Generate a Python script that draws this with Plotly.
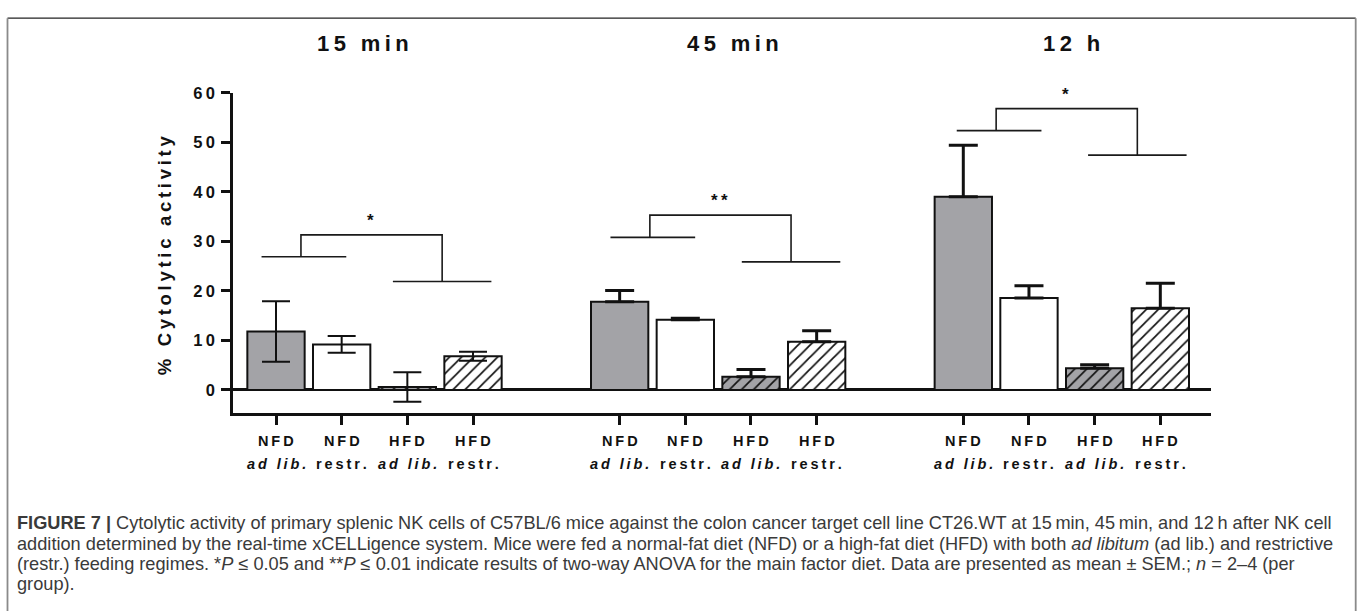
import plotly.graph_objects as go

W, H = 1360, 611

# ---------------- data ----------------
groups = ["15 min", "45 min", "12 h"]
cat_line1 = ["NFD", "NFD", "HFD", "HFD"]
cat_line2 = ["ad lib.", "restr.", "ad lib.", "restr."]
cat_italic = [True, False, True, False]

# mean % cytolytic activity, per group (15 min, 45 min, 12 h)
nfd_adlib = [11.8, 17.8, 39.0]
nfd_restr = [9.2, 14.2, 18.55]
hfd_adlib = [0.6, 2.65, 4.4]
hfd_restr = [6.8, 9.75, 16.5]

# SEM
nfd_adlib_sem = [6.1, 2.3, 10.4]
nfd_restr_sem = [1.7, 0.3, 2.5]
hfd_adlib_sem = [3.0, 1.5, 0.7]
hfd_restr_sem = [0.9, 2.2, 5.05]

# significance brackets (two-way ANOVA, main factor diet)
sig_labels = ["*", "**", "*"]
sig_left_y = [26.9, 30.8, 52.35]
sig_right_y = [21.9, 25.85, 47.4]
sig_top_y = [31.3, 35.3, 56.8]

y_tick_vals = [0, 10, 20, 30, 40, 50, 60]
y_title = "% Cytolytic activity"

caption_lines = [
    "<b>FIGURE 7 |</b> Cytolytic activity of primary splenic NK cells of C57BL/6 mice against the colon cancer target cell line CT26.WT at 15\u2009min, 45\u2009min, and 12\u2009h after NK cell",
    "addition determined by the real-time xCELLigence system. Mice were fed a normal-fat diet (NFD) or a high-fat diet (HFD) with both <i>ad libitum</i> (ad lib.) and restrictive",
    "(restr.) feeding regimes. *<i>P</i> \u2264 0.05 and **<i>P</i> \u2264 0.01 indicate results of two-way ANOVA for the main factor diet. Data are presented as mean \u00b1 SEM.; <i>n</i> = 2\u20134 (per",
    "group).",
]

# ---------------- layout constants ----------------
GROUP_STEP = 5.233
BAR_W = 0.873
GRAY = "#a3a3a7"
INK = "#111111"
FONT = "Liberation Sans, Arial, sans-serif"
TS = "\u2009"  # thin space for letter spacing


def spaced(s, sep=TS):
    return sep.join(s)


def px(x):
    return x / W


def py(y):
    return 1 - y / H


series = [nfd_adlib, nfd_restr, hfd_adlib, hfd_restr]
sems = [nfd_adlib_sem, nfd_restr_sem, hfd_adlib_sem, hfd_restr_sem]
fills = [GRAY, "white", GRAY, "white"]
hatched = [False, False, True, True]

fig = go.Figure()

positions = []
for i in range(4):
    xs = [g * GROUP_STEP + i for g in range(len(groups))]
    positions += xs
    marker = dict(color=fills[i], line=dict(color=INK, width=2))
    if hatched[i]:
        marker["pattern"] = dict(shape="/", fgcolor="#111111", bgcolor=fills[i],
                                 size=8.5, solidity=0.2, fillmode="replace")
    fig.add_trace(go.Bar(x=xs, y=series[i], width=BAR_W, marker=marker,
                         showlegend=False, hoverinfo="skip"))

# error bars: 15 min symmetric, others upward only
for g in range(len(groups)):
    xs = [g * GROUP_STEP + i for i in range(4)]
    ys = [series[i][g] for i in range(4)]
    es = [sems[i][g] for i in range(4)]
    if g == 0:
        err = dict(type="data", array=es, symmetric=True, color=INK,
                   thickness=2, width=14)
    else:
        err = dict(type="data", array=es, arrayminus=[0] * 4, symmetric=False,
                   color=INK, thickness=3, width=14.5)
    fig.add_trace(go.Scatter(x=xs, y=ys, mode="markers",
                             marker=dict(size=1, color="rgba(0,0,0,0)"),
                             error_y=err, showlegend=False, hoverinfo="skip"))

shapes = []
annotations = []

# significance brackets
LEFT_SPAN = (-0.14, 1.15)
RIGHT_SPAN = (1.86, 3.36)
LEGS = (0.46, 2.61)
STAR_X = 1.52
bracket_shift = [-0.08, 0.0, 0.04]
for g in range(len(groups)):
    o = g * GROUP_STEP + bracket_shift[g]
    line = dict(color="#1a1a1a", width=1.6)
    shapes.append(dict(type="line", xref="x", yref="y", x0=o + LEFT_SPAN[0], x1=o + LEFT_SPAN[1],
                       y0=sig_left_y[g], y1=sig_left_y[g], line=line))
    shapes.append(dict(type="line", xref="x", yref="y", x0=o + RIGHT_SPAN[0], x1=o + RIGHT_SPAN[1],
                       y0=sig_right_y[g], y1=sig_right_y[g], line=line))
    path = (f"M {o + LEGS[0]},{sig_left_y[g]} L {o + LEGS[0]},{sig_top_y[g]} "
            f"L {o + LEGS[1]},{sig_top_y[g]} L {o + LEGS[1]},{sig_right_y[g]}")
    shapes.append(dict(type="path", xref="x", yref="y", path=path, line=line))
    annotations.append(dict(x=o + STAR_X, y=sig_top_y[g], xref="x", yref="y",
                            text=spaced(sig_labels[g]), showarrow=False,
                            yanchor="bottom", yshift=3,
                            font=dict(family=FONT, size=17, color=INK, weight="bold")))

# group titles
title_offset = [1.32, 1.73, 1.64]
for g, name in enumerate(groups):
    annotations.append(dict(x=g * GROUP_STEP + title_offset[g], y=py(35), xref="x", yref="paper",
                            text="<b>" + spaced(name) + "</b>", showarrow=False,
                            xanchor="center", yanchor="middle",
                            font=dict(family=FONT, size=22, color=INK)))

# x category labels (two lines)
for g in range(len(groups)):
    for i in range(4):
        x = g * GROUP_STEP + i
        annotations.append(dict(x=x, y=py(438.5), xref="x", yref="paper",
                                text="<b>" + spaced(cat_line1[i]) + "</b>", showarrow=False,
                                xanchor="center", yanchor="middle",
                                font=dict(family=FONT, size=14.5, color=INK)))
        t2 = "<b>" + spaced(cat_line2[i]) + "</b>"
        if cat_italic[i]:
            t2 = "<i>" + t2 + "</i>"
        annotations.append(dict(x=x, y=py(461.5), xref="x", yref="paper",
                                text=t2, showarrow=False,
                                xanchor="center", yanchor="middle",
                                font=dict(family=FONT, size=14.5, color=INK)))

# y axis title
annotations.append(dict(x=px(164), y=py(250), xref="paper", yref="paper",
                        text="<b>" + spaced(y_title) + "</b>", textangle=-90,
                        showarrow=False, xanchor="center", yanchor="middle",
                        font=dict(family=FONT, size=18.5, color=INK)))

# caption
cap_y = [521.5, 542.5, 563, 583.5]
for t, yy in zip(caption_lines, cap_y):
    annotations.append(dict(x=px(15), y=py(yy), xref="paper", yref="paper", text=t,
                            showarrow=False, xanchor="left", yanchor="middle",
                            font=dict(family=FONT, size=18.2, color="#3a3a3a")))

# figure frame
shapes.append(dict(type="line", xref="paper", yref="paper", x0=px(7.5), x1=px(1355.7),
                   y0=py(9.3), y1=py(9.3), line=dict(color="#222222", width=1.3)))
shapes.append(dict(type="line", xref="paper", yref="paper", x0=px(7.5), x1=px(7.5),
                   y0=py(9.3), y1=0, line=dict(color="#8a8a8a", width=1.8)))
shapes.append(dict(type="line", xref="paper", yref="paper", x0=px(1355.7), x1=px(1355.7),
                   y0=py(9.3), y1=0, line=dict(color="#8a8a8a", width=1.8)))

X0_PX, X1_PX = 233, 1211
UNIT = 65.67
FIRST_BAR_PX = 276
Y_TOP_PX, Y_BOT_PX = 85, 410.4

fig.update_layout(
    width=W, height=H,
    margin=dict(l=0, r=0, t=0, b=0, pad=0),
    plot_bgcolor="white", paper_bgcolor="white",
    barmode="overlay", showlegend=False,
    shapes=shapes, annotations=annotations,
    xaxis=dict(domain=[px(X0_PX), px(X1_PX)],
               range=[(X0_PX - FIRST_BAR_PX) / UNIT, (X1_PX - FIRST_BAR_PX) / UNIT],
               showline=True, linewidth=2.7, linecolor=INK,
               ticks="outside", ticklen=9, tickwidth=2.7, tickcolor=INK,
               tickvals=positions, showticklabels=False,
               showgrid=False, zeroline=False, fixedrange=True),
    yaxis=dict(domain=[py(Y_BOT_PX), py(Y_TOP_PX)],
               range=[-4.72, 60],
               showline=True, linewidth=2.7, linecolor=INK,
               ticks="outside", ticklen=9, tickwidth=2.7, tickcolor=INK,
               tickvals=y_tick_vals, ticktext=["<b>" + spaced(str(v)) + "</b>" for v in y_tick_vals],
               tickfont=dict(family=FONT, size=16.5, color=INK),
               ticklabelstandoff=3,
               showgrid=False, zeroline=True, zerolinewidth=2.7, zerolinecolor=INK,
               fixedrange=True),
)

fig.write_html("out.html", config={"displayModeBar": False, "responsive": False},
               post_script="document.body.style.margin='0';document.body.style.overflow='hidden';")
